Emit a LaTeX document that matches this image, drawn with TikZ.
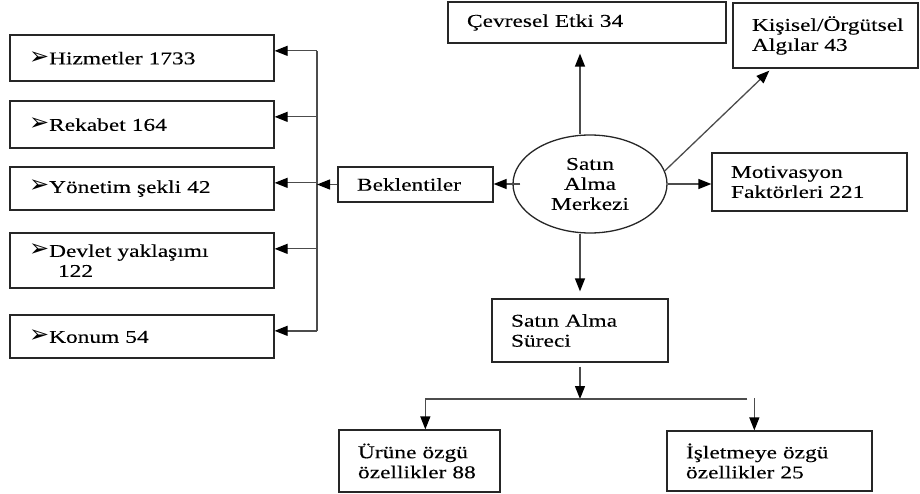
\documentclass[tikz,border=0pt]{standalone}
\usepackage{fontspec}
\setmainfont{Liberation Serif}[FakeStretch=1.3,FakeBold=0.2]
\newfontfamily\symfont{DejaVu Sans}
\usetikzlibrary{arrows.meta,shapes.geometric}
\newcommand{\madde}{{\symfont\fontsize{24}{20}\selectfont ➢}}
\tikzset{
	kutu/.style={draw=black!85, line width=1.3pt, rectangle, align=left, inner xsep=19pt, inner ysep=0pt, font=\fontsize{18}{20}\selectfont},
	ok/.style={draw=black!70, line width=1.3pt, -{Triangle[length=13pt,width=10pt,color=black]}},
	hat/.style={draw=black!70, line width=1.3pt}
}
\begin{document}
\begin{tikzpicture}[x=1pt, y=-1pt]
				\useasboundingbox (0,0) rectangle (920,494);
				\foreach \ad/\y/\h/\metin in {hizmet/58/46/{\madde Hizmetler 1733}, rekabet/124.5/47/{\madde Rekabet 164}, yonetim/188.5/43/{\madde Yönetim şekli 42}, devlet/260.5/55/{\madde Devlet yaklaşımı\\\hspace*{29pt}122}, konum/336.5/43/{\madde Konum 54}} {
					\node[kutu, text width=226pt, minimum height=\h pt] (\ad) at (142,\y) {\metin};
					\coordinate (\ad-ok) at ([yshift=-16.5pt]\ad.north east);
				}
				\node[kutu, text width=117pt, minimum height=35pt] (bekl) at (415.5,184.5) {Beklentiler};
				\node[draw=black!85, line width=1.3pt, ellipse, minimum width=154pt, minimum height=98pt, inner sep=0pt, align=center, font=\fontsize{18}{20}\selectfont] (merkez) at (590,184) {Satın\\Alma\\Merkezi};
				\node[kutu, text width=240pt, minimum height=41pt] (cevre) at (587,22.5) {Çevresel Etki 34};
				\node[kutu, text width=147pt, minimum height=65pt] (kisisel) at (825.5,35.5) {Kişisel/Örgütsel\\Algılar 43};
				\node[kutu, text width=157pt, minimum height=58pt] (motiv) at (809.5,182) {Motivasyon\\Faktörleri 221};
				\node[kutu, text width=138pt, minimum height=63pt] (surec) at (580,330.5) {Satın Alma\\Süreci};
				\node[kutu, text width=123pt, minimum height=62pt] (urun) at (419.5,461) {Ürüne özgü\\özellikler 88};
				\node[kutu, text width=167pt, minimum height=60pt] (isletme) at (769.5,461) {İşletmeye özgü\\özellikler 25};
				\coordinate (bus) at (317,0);
				\coordinate (ayrim) at (580,399);
				\coordinate (urun-ok) at ([xshift=87pt]urun.north west);
				\coordinate (isletme-ok) at ([xshift=88pt]isletme.north west);
				\foreach \ad in {hizmet, rekabet, yonetim, devlet, konum} {
					\draw[ok] (\ad-ok -| bus) -- (\ad-ok);
				}
				\draw[hat] (hizmet-ok -| bus) -- (konum-ok -| bus);
				\draw[ok] (bekl.west) -- (bekl.west -| bus);
				\draw[ok] ([xshift=8pt]merkez.west) -- (bekl.east |- merkez.west);
				\draw[ok, shorten >=10pt] (merkez.north -| surec) -- (cevre.south -| surec);
				\draw[ok] (merkez.10) -- ([xshift=37pt,yshift=-2pt]kisisel.south west);
				\draw[ok] (merkez.east) -- (merkez.east -| motiv.west);
				\draw[ok, shorten >=7pt] (merkez.south -| surec) -- (surec.north);
				\draw[ok, shorten <=4pt] (surec.south) -- (ayrim);
				\draw[ok] ([xshift=-7pt]ayrim -| isletme-ok) -- (ayrim -| urun-ok) -- (urun-ok);
				\draw[ok] ([yshift=1pt]ayrim -| isletme-ok) -- (isletme-ok);
\end{tikzpicture}
\end{document}
